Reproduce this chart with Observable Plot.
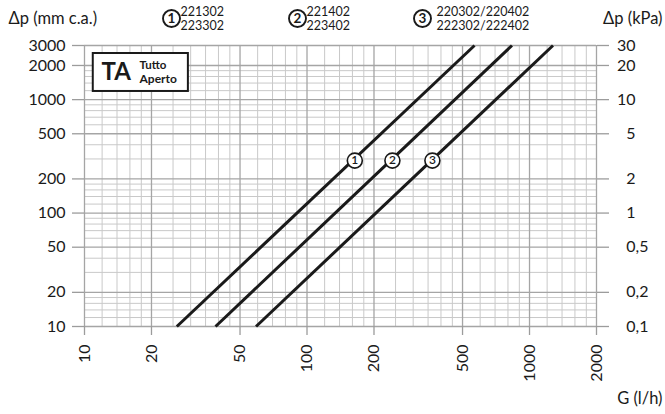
<!DOCTYPE html>
<html><head><meta charset="utf-8">
<script src="https://cdn.jsdelivr.net/npm/d3@7"></script>
<script src="https://cdn.jsdelivr.net/npm/@observablehq/plot@0.6"></script>
<style>
body{margin:0;background:#fff;}
</style></head><body><div id="chart"></div>
<script>
// ---- data ----
const xTicks = [10, 20, 50, 100, 200, 500, 1000, 2000];
const yTicks = [10, 20, 50, 100, 200, 500, 1000, 2000, 3000];
const kPaLabels = ["0,1", "0,2", "0,5", "1", "2", "5", "10", "20", "30"];
const xMinor = [12,14,16,18,25,30,35,40,45,60,70,80,90,120,140,160,180,250,300,350,400,450,600,700,800,900,1200,1400,1600,1800];
const yMinor = [12,14,16,18,30,40,60,70,80,90,120,140,160,180,300,400,600,700,800,900,1200,1400,1600,1800];
const curveIds = ["1", "2", "3"];
const curveGStart = [26, 38.8, 59];     // G (l/h) at Δp = 10
const curveGEnd = [566, 834, 1275];     // G (l/h) at Δp = 3000
const curveDp = [10, 3000];
const markerG = [164, 242, 366];
const markerDp = 290;
const legendCodes = [["221302", "223302"], ["221402", "223402"], ["220302/220402", "222302/222402"]];
const taBoxG = [10.95, 29.3];
const taBoxDp = [1180, 2550];

// ---- tables ----
const curves = curveIds.flatMap((id, i) => [
  {id, G: curveGStart[i], dp: curveDp[0]},
  {id, G: curveGEnd[i], dp: curveDp[1]}
]);
const markers = curveIds.map((id, i) => ({id, G: markerG[i], dp: markerDp}));
const kPa = new Map(yTicks.map((t, i) => [t, kPaLabels[i]]));
const intPart = d => kPa.get(d).split(",")[0];
const fracPart = d => { const s = kPa.get(d).split(","); return s.length > 1 ? "," + s[1] : ""; };

const FL = 84, FT = 45, FR = 596, FB = 326;
const ink = "#1a1a1a";
const tickGrey = "#9c9c9c";
const FS = 16;

const legendX = [171, 297, 422];
const legendTextX = [180, 306, 436];

const mid = {lineAnchor: "middle"};

const marks = [
  Plot.ruleX(xMinor, {stroke: "#c9c9c9", strokeWidth: 1}),
  Plot.ruleY(yMinor, {stroke: "#c9c9c9", strokeWidth: 1}),
  Plot.ruleX(xTicks, {stroke: "#a5a5a5", strokeWidth: 1.3}),
  Plot.ruleY(yTicks, {stroke: "#a5a5a5", strokeWidth: 1.3}),
  // tick marks
  Plot.axisY(yTicks, {anchor: "left", tickSize: 12, tickFormat: () => "", label: null, stroke: tickGrey, strokeWidth: 1.3}),
  Plot.axisY(yTicks, {anchor: "right", tickSize: 12, tickFormat: () => "", label: null, stroke: tickGrey, strokeWidth: 1.3}),
  Plot.axisX(xTicks, {anchor: "bottom", tickSize: 9, tickFormat: () => "", label: null, stroke: tickGrey, strokeWidth: 1.3}),
  // tick labels
  Plot.text(yTicks, {y: d => d, text: d => String(d), frameAnchor: "left", dx: -19, textAnchor: "end", ...mid, fontSize: FS, fill: ink}),
  Plot.text(yTicks, {y: d => d, text: intPart, frameAnchor: "right", dx: 39, textAnchor: "end", ...mid, fontSize: FS, fill: ink}),
  Plot.text(yTicks, {y: d => d, text: fracPart, frameAnchor: "right", dx: 39, textAnchor: "start", ...mid, fontSize: FS, fill: ink}),
  Plot.text(xTicks, {x: d => d, text: d => String(d), frameAnchor: "bottom", dy: 18, rotate: -90, textAnchor: "end", ...mid, fontSize: FS, fill: ink}),
  // curves
  Plot.line(curves, {x: "G", y: "dp", z: "id", stroke: ink, strokeWidth: 3, strokeLinecap: "butt"}),
  Plot.dot(markers, {x: "G", y: "dp", r: 7.5, fill: "white", stroke: ink, strokeWidth: 1.6}),
  Plot.text(markers, {x: "G", y: "dp", text: "id", fontSize: 12, fontWeight: 600, fill: ink}),
  // TA box
  Plot.rect([0], {x1: () => taBoxG[0], x2: () => taBoxG[1], y1: () => taBoxDp[0], y2: () => taBoxDp[1], fill: "white", stroke: ink, strokeWidth: 2}),
  Plot.text(["TA"], {frameAnchor: "top-left", dx: 101 - FL, dy: 72 - FT, textAnchor: "start", ...mid, fontSize: 24, fontWeight: 700, fill: ink, letterSpacing: "-1.5px"}),
  Plot.text(["Tutto"], {frameAnchor: "top-left", dx: 139 - FL, dy: 65 - FT, textAnchor: "start", ...mid, fontSize: 11.5, fontWeight: 700, fill: ink}),
  Plot.text(["Aperto"], {frameAnchor: "top-left", dx: 139 - FL, dy: 79 - FT, textAnchor: "start", ...mid, fontSize: 12, fontWeight: 700, fill: ink}),
  // header
  Plot.text(["Δp (mm c.a.)"], {frameAnchor: "top-left", dx: 8 - FL, dy: 18 - FT, textAnchor: "start", ...mid, fontSize: 16.5, fill: ink}),
  Plot.text(["Δp (kPa)"], {frameAnchor: "top-right", dx: 662 - FR, dy: 18 - FT, textAnchor: "end", ...mid, fontSize: 16.5, fill: ink}),
  Plot.text(["G (l/h)"], {frameAnchor: "bottom-right", dx: 662 - FR, dy: 398 - FB, textAnchor: "end", ...mid, fontSize: 16.5, fill: ink})
];

legendCodes.forEach((codes, i) => {
  marks.push(
    Plot.dot([0], {frameAnchor: "top-left", dx: legendX[i] - FL, dy: 18 - FT, r: 8.5, fill: "white", stroke: ink, strokeWidth: 1.9}),
    Plot.text([curveIds[i]], {frameAnchor: "top-left", dx: legendX[i] - FL, dy: 18 - FT, textAnchor: "middle", ...mid, fontSize: 13.5, fontWeight: 700, fill: ink}),
    Plot.text([codes[0]], {frameAnchor: "top-left", dx: legendTextX[i] - FL, dy: 11 - FT, textAnchor: "start", ...mid, fontSize: 12.5, fill: ink}),
    Plot.text([codes[1]], {frameAnchor: "top-left", dx: legendTextX[i] - FL, dy: 25 - FT, textAnchor: "start", ...mid, fontSize: 12.5, fill: ink})
  );
});

const chart = Plot.plot({
  width: 665,
  height: 414,
  marginTop: FT,
  marginLeft: FL,
  marginRight: 665 - FR,
  marginBottom: 414 - FB,
  x: {type: "log", domain: [10, 2000]},
  y: {type: "log", domain: [10, 3000]},
  style: {fontFamily: "Lato, 'Open Sans', sans-serif", fontSize: "16px", background: "#fff", color: ink},
  marks
});
document.getElementById("chart").appendChild(chart);
</script>
</body></html>
